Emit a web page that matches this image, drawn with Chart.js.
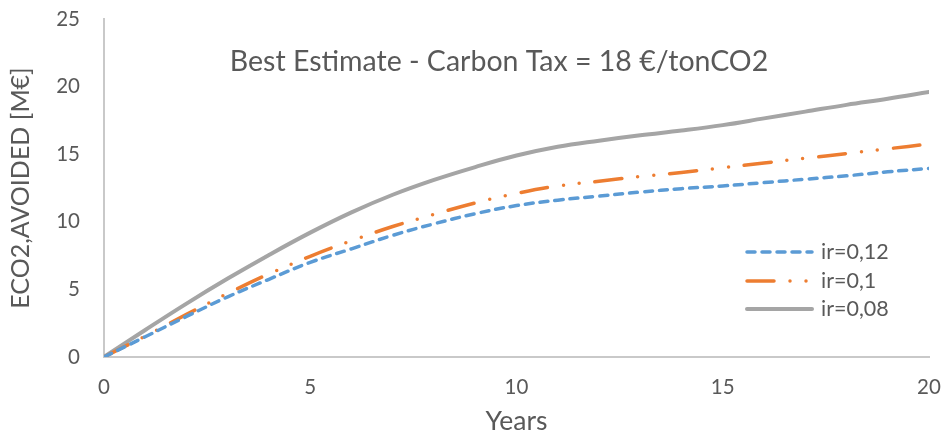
<!DOCTYPE html>
<html>
<head>
<meta charset="utf-8">
<title>ECO2 avoided</title>
<script src="https://cdn.jsdelivr.net/npm/chart.js@4/dist/chart.umd.min.js"></script>
<style>
    html, body { margin: 0; padding: 0; background: #ffffff; }
    canvas { display: block; }
</style>
</head>
<body>
<canvas id="cnv-eco2" width="941" height="437"></canvas>
<script>
//--------------------------------------
// Data
//--------------------------------------
var years = [0, 1, 2, 3, 4, 5, 6, 7, 8, 9, 10, 11, 12, 13, 14, 15, 16, 17, 18, 19, 20];
var ir012 = [0, 1.5, 3.0, 4.45, 5.75, 7.0, 8.0, 9.0, 9.85, 10.6, 11.2, 11.6, 11.9, 12.2, 12.45, 12.65, 12.9, 13.15, 13.4, 13.7, 13.95];
var ir010 = [0, 1.55, 3.15, 4.7, 6.15, 7.45, 8.6, 9.65, 10.55, 11.4, 12.1, 12.65, 13.0, 13.35, 13.65, 14.0, 14.35, 14.7, 15.05, 15.4, 15.75];
var ir008 = [0, 2.0, 3.95, 5.8, 7.55, 9.2, 10.7, 12.0, 13.1, 14.05, 14.9, 15.55, 16.0, 16.4, 16.75, 17.15, 17.65, 18.15, 18.65, 19.1, 19.6];
var seriesNames = ['ir=0,12', 'ir=0,1', 'ir=0,08'];
var xTicks = [0, 5, 10, 15, 20];
var yTicks = [0, 5, 10, 15, 20, 25];
var chartTitle = 'Best Estimate - Carbon Tax = 18 \u20ac/tonCO2';

(function(win){
    var FONT = 'Lato, "Open Sans", sans-serif';
    var TEXT = '#595959';
    var AXIS = '#c9c9c9';

    var init = function(){
        setChart();
    };

    //--------------------------------------
    // Helpers
    //--------------------------------------
    var toPoints = function(values){
        return years.map(function(yr, i){
            return {x: yr, y: values[i]};
        });
    };

    var fixedTicks = function(list){
        return function(scale){
            scale.ticks = list.map(function(v){ return {value: v}; });
        };
    };

    // title sits inside the plot area, legend floats bottom right
    var insideTitle = {
        id: 'insideTitle',
        afterDraw: function(chart){
            var ctx = chart.ctx;
            ctx.save();
            ctx.font = '28.5px ' + FONT;
            ctx.fillStyle = TEXT;
            ctx.textAlign = 'center';
            ctx.textBaseline = 'alphabetic';
            ctx.fillText(chartTitle, 499, 71);
            ctx.restore();
        }
    };

    var floatLegend = {
        id: 'floatLegend',
        afterDraw: function(chart){
            var ctx = chart.ctx;
            var rows = [252, 281, 309];
            chart.data.datasets.forEach(function(ds, i){
                var y = rows[i];
                ctx.save();
                ctx.strokeStyle = ds.borderColor;
                ctx.lineWidth = ds.borderWidth;
                ctx.lineCap = ds.borderCapStyle || 'butt';
                ctx.setLineDash(ds.borderDash || []);
                ctx.beginPath();
                ctx.moveTo(747, y);
                ctx.lineTo(812, y);
                ctx.stroke();
                ctx.setLineDash([]);
                ctx.font = '21.5px ' + FONT;
                ctx.fillStyle = TEXT;
                ctx.textAlign = 'left';
                ctx.textBaseline = 'middle';
                ctx.fillText(ds.label, 821, y);
                ctx.restore();
            });
        }
    };

    //--------------------------------------
    // Chart
    //--------------------------------------
    var setChart = function(){
        var cnv = document.getElementById('cnv-eco2');
        var chart = new Chart(cnv, {
            type: 'line',
            data: {
                datasets: [
                {
                    label: seriesNames[0],
                    data: toPoints(ir012),
                    borderColor: '#5b9bd5',
                    borderWidth: 3.5,
                    borderDash: [8, 7],
                    borderCapStyle: 'round'
                },
                {
                    label: seriesNames[1],
                    data: toPoints(ir010),
                    borderColor: '#ed7d31',
                    borderWidth: 3.5,
                    borderDash: [27, 16, 0, 16, 0, 16],
                    borderCapStyle: 'round'
                },
                {
                    label: seriesNames[2],
                    data: toPoints(ir008),
                    borderColor: '#a5a5a5',
                    borderWidth: 4,
                    borderCapStyle: 'round'
                }]
            },
            options: {
                responsive: false,
                devicePixelRatio: 1,
                animation: false,
                layout: { padding: { top: 19, right: 12, left: 0, bottom: 0 } },
                elements: {
                    point: { radius: 0, hoverRadius: 0 },
                    line: { tension: 0.4, fill: false }
                },
                plugins: {
                    legend: { display: false },
                    tooltip: { enabled: false }
                },
                scales: {
                    x: {
                        type: 'linear',
                        min: 0,
                        max: 20,
                        afterBuildTicks: fixedTicks(xTicks),
                        afterFit: function(s){
                            s.height = 80;
                            s.paddingLeft = 0;
                            s.paddingRight = 0;
                        },
                        grid: { drawOnChartArea: false, drawTicks: false },
                        border: { color: AXIS, width: 2 },
                        ticks: { padding: 18, color: TEXT, font: { family: FONT, size: 20.5 }, maxRotation: 0 },
                        title: { display: true, text: 'Years', color: TEXT, font: { family: FONT, size: 26.5 }, padding: { top: 0, bottom: 0 } }
                    },
                    y: {
                        min: 0,
                        max: 25,
                        afterBuildTicks: fixedTicks(yTicks),
                        afterFit: function(s){
                            s.width = 104;
                            s.paddingTop = 0;
                            s.paddingBottom = 0;
                        },
                        grid: { drawOnChartArea: false, drawTicks: false },
                        border: { color: AXIS, width: 2 },
                        ticks: { padding: 24, color: TEXT, font: { family: FONT, size: 20.5 } },
                        title: { display: true, text: 'ECO2,AVOIDED [M\u20ac]', color: TEXT, font: { family: FONT, size: 25 }, padding: { top: 6, bottom: 0 } }
                    }
                }
            },
            plugins: [insideTitle, floatLegend]
        });
        win.eco2Chart = chart;
    };

    init();
})(window);
</script>
</body>
</html>
